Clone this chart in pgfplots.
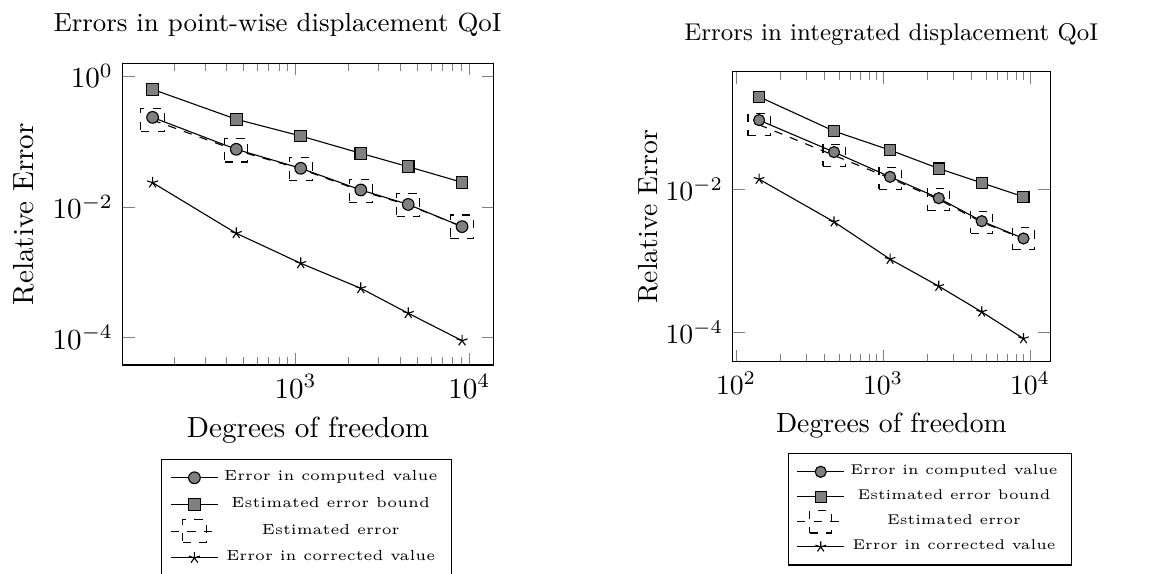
\RequirePackage{fix-cm}
\documentclass[border=0pt]{standalone}
\usepackage{pgfplots}
\pgfplotsset{compat=1.18}

\tikzset{
  sercomputed/.style={black, mark=*, mark options={fill=black!50}},
  serbound/.style={black, mark=square*, mark options={fill=black!50}},
  serestimated/.style={black, dashed, mark=square},
  sercorrected/.style={black, mark=star},
}

\begin{document}
\begin{tikzpicture}
\path[use as bounding box] (0pt,0pt) rectangle (420.9pt,-206.9pt);

% point-wise displacement QoI
\begin{axis}[
  xmode=log, ymode=log,
  scale only axis,
  anchor=north west,
  at={(44.3pt,-22.85pt)},
  width=133.8pt, height=108.9pt,
  font=\fontsize{10.5}{12.6}\selectfont,
  xlabel={Degrees of freedom},
  ylabel={Relative Error},
  title={Errors in point-wise displacement QoI},
  title style={font=\fontsize{9.45}{11.3}\selectfont, xshift=-11pt},
  xmin=101, xmax=13750, ymin=3.82e-5, ymax=1.562,
  xtick={1000,10000}, ytick={1,1e-2,1e-4},
  minor xtick={200,300,400,500,600,700,800,900,2000,3000,4000,5000,6000,7000,8000,9000},
  legend cell align=center,
  legend style={anchor=north, draw=black, at={(0.496,-0.3116)}, row sep=0.5pt, font=\fontsize{5.25}{6.3}\selectfont},
  mark size=2.1pt,
]
\addplot[sercomputed] coordinates {(150,0.233) (455,0.0757) (1069,0.0388) (2371,0.0181) (4446,0.01087) (9077,0.00498)};
\addlegendentry{Error in computed value}
\addplot[serbound] coordinates {(150,0.625) (455,0.218) (1069,0.121) (2371,0.0657) (4446,0.0411) (9077,0.0237)};
\addlegendentry{Estimated error bound}
\addplot[serestimated, mark size=4.2pt] coordinates {(150,0.212) (455,0.073) (1069,0.0379) (2371,0.0175) (4446,0.01067) (9077,0.00498)};
\addlegendentry{Estimated error}
\addplot[sercorrected] coordinates {(150,0.0234) (455,0.00394) (1069,0.00137) (2371,0.000568) (4446,0.000236) (9077,9.0e-5)};
\addlegendentry{Error in corrected value}
\end{axis}

% integrated displacement QoI
\begin{axis}[
  xmode=log, ymode=log,
  scale only axis,
  anchor=north west,
  at={(264.5pt,-25.9pt)},
  width=114.55pt, height=104.7pt,
  xlabel={Degrees of freedom},
  ylabel={Relative Error},
  ylabel shift={-4.3pt},
  title={Errors in integrated displacement QoI},
  title style={font=\fontsize{8.75}{10.5}\selectfont},
  xmin=94.9, xmax=13680, ymin=3.8e-5, ymax=0.45,
  xtick={100,1000,10000}, ytick={1e-2,1e-4},
  minor xtick={200,300,400,500,600,700,800,900,2000,3000,4000,5000,6000,7000,8000,9000},
  legend cell align=center,
  legend style={anchor=north, draw=black, at={(0.621,-0.315)}, font=\fontsize{5.1}{6.1}\selectfont},
]
\addplot[sercomputed] coordinates {(143.4,0.0942) (464,0.0335) (1116,0.01506) (2393,0.00755) (4690,0.00359) (9020,0.00205)};
\addlegendentry{Error in computed value}
\addplot[serbound] coordinates {(143.4,0.2004) (464,0.066) (1116,0.0357) (2393,0.0197) (4690,0.0124) (9020,0.00789)};
\addlegendentry{Estimated error bound}
\addplot[serestimated, mark size=4pt] coordinates {(143.4,0.081) (464,0.0301) (1116,0.0144) (2393,0.00724) (4690,0.00347) (9020,0.00203)};
\addlegendentry{Estimated error}
\addplot[sercorrected] coordinates {(143.4,0.01395) (464,0.00351) (1116,0.00105) (2393,0.000438) (4690,0.000191) (9020,8.05e-5)};
\addlegendentry{Error in corrected value}
\end{axis}
\end{tikzpicture}
\end{document}
